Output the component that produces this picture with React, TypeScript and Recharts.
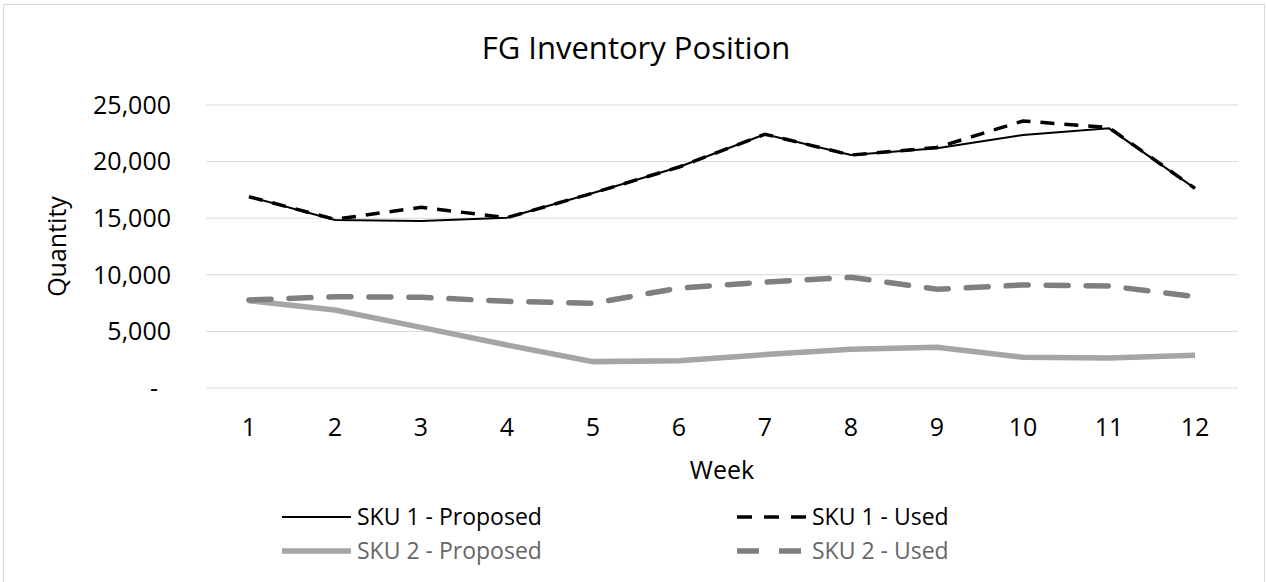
import { LineChart, Line, XAxis, YAxis, CartesianGrid } from "recharts";

const weeks = [1, 2, 3, 4, 5, 6, 7, 8, 9, 10, 11, 12];
const sku1Proposed = [16900, 14840, 14750, 15050, 17220, 19520, 22420, 20580, 21170, 22350, 22940, 17640];
const sku1Used = [16900, 14900, 15960, 15050, 17220, 19520, 22420, 20580, 21250, 23590, 23000, 17640];
const sku2Proposed = [7710, 6890, 5360, 3800, 2330, 2410, 2950, 3420, 3590, 2710, 2660, 2890];
const sku2Used = [7770, 8070, 8010, 7660, 7480, 8830, 9360, 9780, 8720, 9100, 9010, 8070];
const yTicks = [0, 5000, 10000, 15000, 20000, 25000];

const series = [
  { key: "sku1Proposed", name: "SKU 1 - Proposed", color: "#000000", width: 2, dash: undefined, text: "#000000" },
  { key: "sku1Used", name: "SKU 1 - Used", color: "#000000", width: 3.5, dash: "14 10", text: "#000000" },
  { key: "sku2Proposed", name: "SKU 2 - Proposed", color: "#a5a5a5", width: 5.5, dash: undefined, text: "#666666" },
  { key: "sku2Used", name: "SKU 2 - Used", color: "#7f7f7f", width: 5.5, dash: "22 18", text: "#666666" },
];

const data = weeks.map((w, i) => ({
  week: w,
  sku1Proposed: sku1Proposed[i],
  sku1Used: sku1Used[i],
  sku2Proposed: sku2Proposed[i],
  sku2Used: sku2Used[i],
}));

const font = '"Open Sans", sans-serif';

function YTick(props: any) {
  const { x, y, payload } = props;
  const isZero = payload.value === 0;
  return (
    <text
      x={isZero ? x - 13 : x}
      y={y}
      dy="0.355em"
      textAnchor="end"
      fill="#000"
      fontSize={25}
      fontFamily={font}
    >
      {isZero ? "-" : payload.value.toLocaleString("en-US")}
    </text>
  );
}

function QuantityLabel(props: any) {
  const { viewBox } = props;
  const cx = viewBox.x + 66;
  const cy = viewBox.y + viewBox.height / 2;
  return (
    <text
      x={cx}
      y={cy}
      transform={`rotate(-90, ${cx}, ${cy})`}
      textAnchor="middle"
      fill="#000"
      fontSize={25}
      fontFamily={font}
    >
      Quantity
    </text>
  );
}

// legend slots: two columns, two rows
const legendPos = [
  { x: 282, y: 517 },
  { x: 737, y: 517 },
  { x: 282, y: 551 },
  { x: 737, y: 551 },
];

export default function App() {
  return (
    <div
      style={{
        position: "absolute",
        left: 0,
        top: 0,
        width: 1266,
        height: 582,
        overflow: "hidden",
        background: "#fff",
        fontFamily: font,
      }}
    >
      {/* chart area border */}
      <div
        style={{
          position: "absolute",
          left: 3,
          top: 4,
          width: 1262,
          height: 640,
          border: "1px solid #d9d9d9",
          boxSizing: "border-box",
        }}
      />
      <div style={{ position: "absolute", left: 0, top: 0 }}>
        <LineChart
          width={1266}
          height={582}
          data={data}
          margin={{ top: 105, right: 28, bottom: 94, left: 0 }}
        >
          <CartesianGrid vertical={false} stroke="#d9d9d9" strokeWidth={1} />
          <XAxis
            dataKey="week"
            height={100}
            axisLine={false}
            tickLine={false}
            tickSize={0}
            tickMargin={30}
            padding={{ left: 43, right: 43 }}
            tick={{ fill: "#000", fontSize: 25, fontFamily: font }}
            label={{ value: "Week", position: "insideTop", offset: 73, fill: "#000", fontSize: 25, fontFamily: font }}
          />
          <YAxis
            width={206}
            domain={[0, 25000]}
            ticks={yTicks}
            axisLine={false}
            tickLine={false}
            tickSize={0}
            tickMargin={35}
            tick={<YTick />}
            label={{ content: <QuantityLabel /> }}
          />
          {series.map((s) => (
            <Line
              key={s.key}
              type="linear"
              dataKey={s.key}
              name={s.name}
              stroke={s.color}
              strokeWidth={s.width}
              strokeDasharray={s.dash}
              strokeLinecap={s.key === "sku2Used" ? "round" : "butt"}
              dot={false}
              activeDot={false}
              isAnimationActive={false}
            />
          ))}
        </LineChart>
      </div>
      <svg
        width={1266}
        height={582}
        style={{ position: "absolute", left: 0, top: 0, pointerEvents: "none" }}
      >
        <text x={636} y={59} textAnchor="middle" fontSize={31} fontFamily={font} fill="#000">
          FG Inventory Position
        </text>
        {series.map((s, i) => {
          const p = legendPos[i];
          return (
            <g key={s.key}>
              <line
                x1={p.x}
                x2={p.x + 69}
                y1={p.y}
                y2={p.y}
                stroke={s.color}
                strokeWidth={s.width}
                strokeDasharray={s.key === "sku1Used" ? "15 12" : s.key === "sku2Used" ? "22 20" : undefined}
              />
              <text x={p.x + 75} y={p.y + 8} fontSize={23} fontFamily={font} fill={s.text}>
                {s.name}
              </text>
            </g>
          );
        })}
      </svg>
    </div>
  );
}
